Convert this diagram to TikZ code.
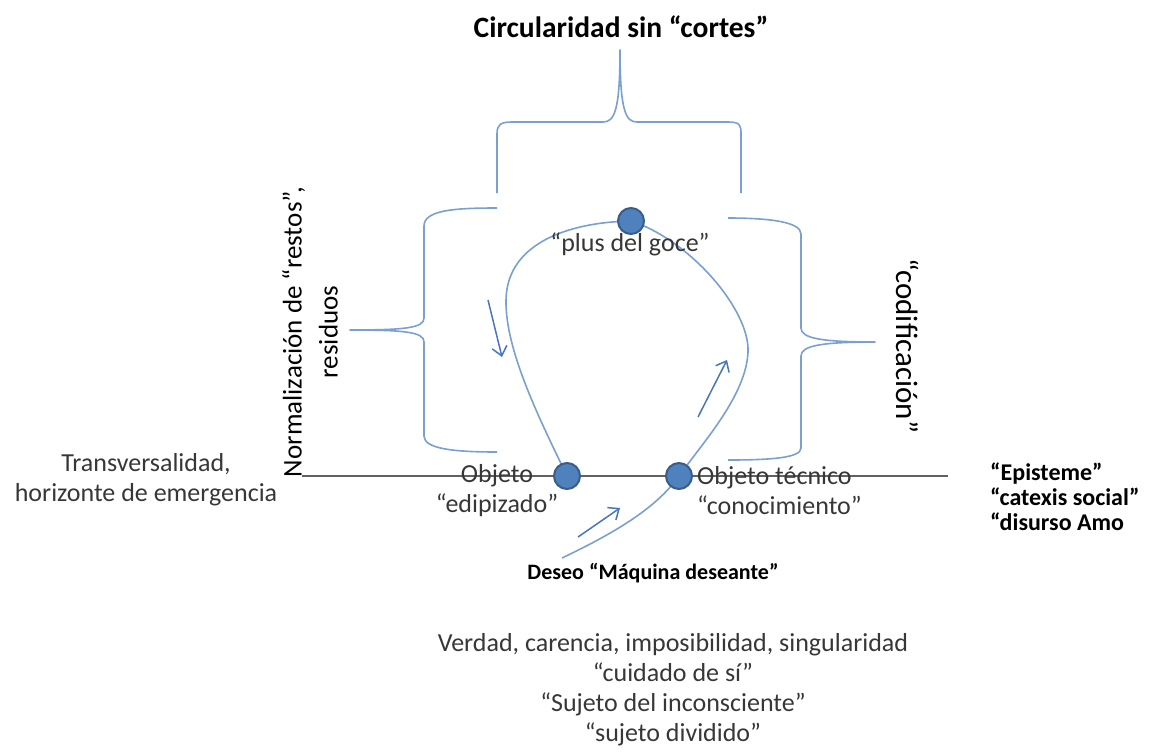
\documentclass[tikz,border=0pt]{standalone}
\usepackage{fontspec}
\setmainfont{Carlito}
\usepackage{tikz}
\usetikzlibrary{arrows.meta,backgrounds}
\definecolor{lineblue}{RGB}{122,160,210}
\definecolor{arrowblue}{RGB}{72,118,186}
\definecolor{dotfill}{RGB}{79,129,189}
\definecolor{dotdraw}{RGB}{56,93,138}
\definecolor{txtgray}{RGB}{55,55,55}

\begin{document}
\begin{tikzpicture}[
    x=1pt, y=-1pt,
    brc/.style={draw=lineblue, line width=1.6pt, line join=round},
    loopline/.style={draw=lineblue, line width=1.6pt},
    flow/.style={draw=arrowblue, line width=1.5pt, -{Straight Barb[length=9pt, width=15pt]}},
    dot/.style={circle, fill=dotfill, draw=dotdraw, line width=2pt, minimum size=26pt, inner sep=0pt},
    axis/.style={draw=black!62, line width=1.8pt},
    lbl/.style={font=\fontsize{26}{30}\selectfont, text=txtgray, inner sep=0pt},
    big/.style={font=\fontsize{27}{36}\selectfont, inner sep=0pt},
    strong/.style={font=\fontsize{24}{25}\selectfont\bfseries, inner sep=0pt},
]
\useasboundingbox (0,0) rectangle (1150,753);

% puntos del circuito
\node[dot] (dEdip) at (567,476) {};
\node[dot] (dTecn) at (679,476) {};
\node[dot] (dGoce) at (631,221) {};
\coordinate (hzL) at (302,476);
\coordinate (hzR) at (948,476);
\coordinate (deseoEnd) at (562,558);

\begin{scope}[on background layer]
\draw[axis] (hzL) -- (hzR);
\draw[loopline] (dEdip.center) .. controls (540,420) and (505,350) .. (506,300)
  .. controls (507,240) and (575,222) .. (dGoce.center)
  .. controls (690,240) and (750,310) .. (748,352)
  .. controls (746,395) and (705,440) .. (dTecn.center)
  .. controls (655,510) and (610,535) .. (deseoEnd);
\end{scope}

% llaves
\draw[brc] (497,193) -- (497,134) .. controls (497,125) and (500,122) .. (512,122)
  -- (603,122) .. controls (614,122) and (620,112) .. (620,50)
  .. controls (620,112) and (626,122) .. (637,122) -- (728,122)
  .. controls (740,122) and (741,125) .. (741,134) -- (741,193);
\draw[brc] (497,208) .. controls (455,208) and (424,210) .. (424,226) -- (424,318)
  .. controls (424,328) and (405,330) .. (350,330)
  .. controls (405,330) and (424,332) .. (424,342) -- (424,436)
  .. controls (424,449) and (455,452) .. (497,452);
\draw[brc] (728,218) .. controls (770,218) and (801,222) .. (801,234) -- (801,328)
  .. controls (801,338) and (820,342) .. (875,342)
  .. controls (820,342) and (801,346) .. (801,356) -- (801,448)
  .. controls (801,458) and (770,460) .. (728,460);

% flechas de recorrido
\coordinate (aL1) at (488,300);
\coordinate (aL2) at (502,357);
\coordinate (aR1) at (698,417);
\coordinate (aR2) at (727,360);
\coordinate (aB1) at (578,537);
\coordinate (aB2) at (620,508);
\draw[flow] (aL1) -- (aL2);
\draw[flow] (aR1) -- (aR2);
\draw[flow] (aB1) -- (aB2);

% textos
\node[font=\fontsize{29.5}{32}\selectfont\bfseries, inner sep=0pt] (circ) at (621,27) {Circularidad sin “cortes”};
\node[big, rotate=90, align=center] (norm) at (310,332) {Normalización de “restos”,\\residuos};
\node[big, font=\fontsize{31}{36}\selectfont, rotate=-90] (codif) at (908,346) {“codificación”};
\node[lbl] (goce) at (630,244) {“plus del goce”};
\node[lbl, align=center] (edipTxt) at (497,491) {Objeto\\“edipizado”};
\node[lbl, align=left, anchor=west] (tecnTxt) at (697,491) {Objeto técnico\\“conocimiento”};
\node[lbl, align=center] (transv) at (146,480) {Transversalidad,\\horizonte de emergencia};
\node[strong, align=left, anchor=west] (epis) at (990,497) {“Episteme”\\“catexis social”\\“disurso Amo};
\node[font=\fontsize{22}{26}\selectfont\bfseries, inner sep=0pt] (deseo) at (653,573) {Deseo “Máquina deseante”};
\node[lbl, align=center] (verdad) at (673,690) {Verdad, carencia, imposibilidad, singularidad\\“cuidado de sí”\\“Sujeto del inconsciente”\\“sujeto dividido”};
\end{tikzpicture}
\end{document}
